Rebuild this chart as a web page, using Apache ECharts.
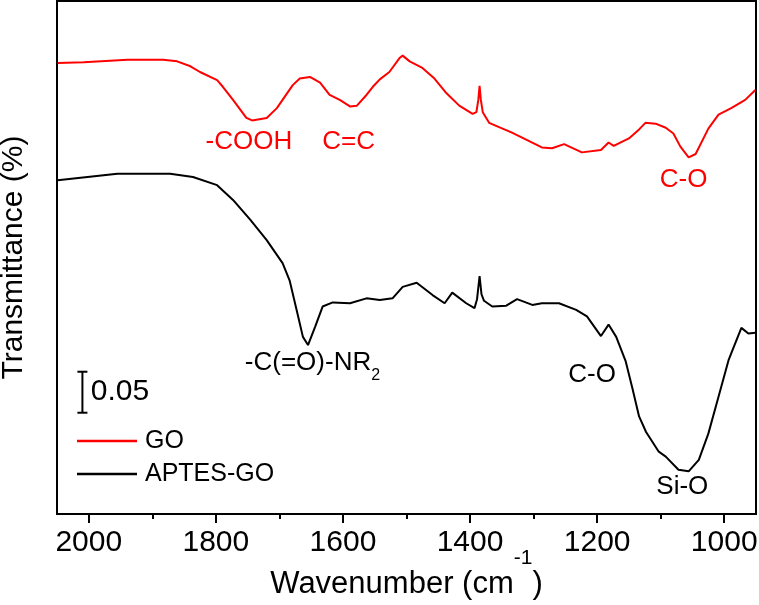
<!DOCTYPE html>
<html><head><meta charset="utf-8">
<script src="https://cdn.jsdelivr.net/npm/echarts@6/dist/echarts.min.js"></script>
<style>html,body{margin:0;padding:0;background:#fff}#c{width:759px;height:605px}</style>
</head><body><div id="c"></div>
<script>
// ---- data ----
const wavenumberGO = [2049,2008,1939,1883,1861,1840,1825,1798,1789,1773,1752,1743,1720,1704,1688,1679,1668,1652,1636,1621,1605,1589,1578,1563,1553,1542,1527,1511,1506,1495,1475,1456,1437,1417,1396,1390,1387,1385,1383,1380,1370,1334,1287,1271,1252,1224,1194,1182,1174,1150,1134,1124,1108,1092,1080,1069,1056,1045,1025,1009,989,967,951];
const transmittanceGO = [0.550,0.551,0.554,0.554,0.552,0.546,0.539,0.529,0.521,0.505,0.483,0.480,0.483,0.495,0.513,0.523,0.531,0.533,0.526,0.511,0.505,0.497,0.498,0.511,0.521,0.530,0.539,0.556,0.559,0.552,0.544,0.531,0.513,0.498,0.488,0.490,0.505,0.522,0.505,0.490,0.477,0.465,0.447,0.446,0.451,0.441,0.444,0.453,0.449,0.458,0.469,0.477,0.476,0.471,0.464,0.448,0.435,0.439,0.470,0.487,0.495,0.505,0.517];

const wavenumberAPTES = [2049,1955,1872,1836,1798,1773,1746,1720,1695,1684,1673,1663,1655,1644,1632,1616,1589,1563,1542,1522,1506,1484,1459,1440,1428,1406,1393,1389,1385,1382,1378,1365,1343,1326,1302,1287,1260,1233,1216,1194,1182,1170,1155,1145,1134,1123,1103,1092,1072,1056,1040,1025,1009,993,989,973,962,951];
const transmittanceAPTES = [0.407,0.415,0.415,0.411,0.401,0.383,0.359,0.334,0.306,0.285,0.249,0.216,0.206,0.228,0.253,0.258,0.257,0.263,0.261,0.263,0.277,0.282,0.267,0.257,0.270,0.257,0.251,0.262,0.290,0.268,0.260,0.253,0.254,0.262,0.255,0.257,0.257,0.249,0.241,0.217,0.231,0.216,0.186,0.155,0.119,0.100,0.076,0.070,0.054,0.052,0.066,0.098,0.143,0.188,0.196,0.227,0.220,0.221];

const seriesNames = ['GO', 'APTES-GO'];
const majorTicks = [2000, 1800, 1600, 1400, 1200, 1000];
const minorTicks = [1900, 1700, 1500, 1300, 1100];

// scale bar (0.05 transmittance units)
const scaleBarWavenumber = [2010, 2010];
const scaleBarValue = [0.1235, 0.1735];
const scaleBarLabel = ['0.05'];
const scaleBarLabelPos = [1951, 0.1488];

// peak annotations
const notesGOWavenumber = [1748, 1591, 1064];
const notesGOValue = [0.454, 0.454, 0.408];
const notesGOText = ['-COOH', 'C=C', 'C-O'];
const notesAPTESWavenumber = [1648, 1208, 1066];
const notesAPTESValue = [0.1838, 0.1695, 0.0333];
const notesAPTESText = ['-C(=O)-NR{sub|2}', 'C-O', 'Si-O'];

// ---- chart ----
const FONT = '"Liberation Sans", Arial, Helvetica, sans-serif';
const RED = '#ff0000', BLACK = '#000000';
const zip = (a, b) => a.map((v, i) => [v, b[i]]);
const noteData = (w, v, t) => w.map((x, i) => ({ value: [x, v[i]], text: t[i] }));

const chart = echarts.init(document.getElementById('c'), null, { renderer: 'canvas' });
const xCommon = { type: 'value', min: 950, max: 2050, inverse: true, splitLine: { show: false } };
const noteLabel = (color, size) => ({
  show: true, position: 'inside', formatter: p => p.data.text, opacity: 1,
  color: color, fontSize: size, fontFamily: FONT, lineHeight: 30,
  align: 'center', verticalAlign: 'middle',
  rich: { sub: { fontSize: 16, fontFamily: FONT, color: color, opacity: 1, padding: [25, 0, 0, 0] } }
});
const noteSeries = (name, data, color, size) => ({
  name: name, type: 'scatter', symbolSize: 0, data: data,
  itemStyle: { opacity: 1, color: color }, label: noteLabel(color, size),
  emphasis: { disabled: true }, silent: true, z: 5
});

chart.setOption({
  animation: false,
  backgroundColor: '#ffffff',
  grid: { left: 57, right: 3, top: 1, bottom: 91, show: true, borderColor: BLACK, borderWidth: 2, outerBoundsMode: 'none', containLabel: false },
  legend: {
    data: seriesNames, orient: 'vertical', left: 77, top: 428, padding: 0,
    itemWidth: 60, itemHeight: 2.5, icon: 'rect', itemGap: 7,
    textStyle: { fontSize: 25, fontFamily: FONT, color: BLACK, lineHeight: 26, padding: [0, 0, 0, 3] }
  },
  xAxis: [
    Object.assign({}, xCommon, {
      position: 'bottom',
      axisLine: { show: true, lineStyle: { color: BLACK, width: 2 } },
      axisTick: { show: true, inside: false, length: 9, customValues: majorTicks, lineStyle: { color: BLACK, width: 2 } },
      axisLabel: { show: true, customValues: majorTicks, formatter: v => String(v), fontSize: 30, fontFamily: FONT, color: BLACK, margin: 14 },
      name: '{a|Wavenumber (cm}{sup|-1}{a|)}', nameLocation: 'middle', nameGap: 34, nameMoveOverlap: false,
      nameTextStyle: {
        fontSize: 31, fontFamily: FONT, color: BLACK, lineHeight: 72,
        rich: { a: { fontSize: 31, fontFamily: FONT, color: BLACK, lineHeight: 72 },
                sup: { fontSize: 21, fontFamily: FONT, color: BLACK, lineHeight: 22, verticalAlign: 'top' } }
      }
    }),
    Object.assign({}, xCommon, {
      position: 'bottom', gridIndex: 0,
      axisLine: { show: false },
      axisTick: { show: true, inside: false, length: 5, customValues: minorTicks, lineStyle: { color: BLACK, width: 2 } },
      axisLabel: { show: false }
    })
  ],
  yAxis: {
    type: 'value', min: 0, max: 0.6256,
    axisLine: { show: true, lineStyle: { color: BLACK, width: 2 } },
    axisTick: { show: false }, axisLabel: { show: false }, splitLine: { show: false },
    name: 'Transmittance (%)', nameLocation: 'middle', nameGap: 28, nameMoveOverlap: false,
    nameTextStyle: { fontSize: 30, fontFamily: FONT, color: BLACK }
  },
  series: [
    { name: seriesNames[0], type: 'line', data: zip(wavenumberGO, transmittanceGO), showSymbol: false, symbol: 'none',
      color: RED, lineStyle: { color: RED, width: 2 }, z: 3 },
    { name: seriesNames[1], type: 'line', data: zip(wavenumberAPTES, transmittanceAPTES), showSymbol: false, symbol: 'none',
      color: BLACK, lineStyle: { color: BLACK, width: 2 }, z: 3 },
    { name: 'scalebar', type: 'line', data: zip(scaleBarWavenumber, scaleBarValue), symbol: 'rect', symbolSize: [10, 2],
      showSymbol: true, color: BLACK, itemStyle: { color: BLACK }, lineStyle: { color: BLACK, width: 2 } },
    noteSeries('scalebarLabel', [{ value: scaleBarLabelPos, text: scaleBarLabel[0] }], BLACK, 30),
    noteSeries('notesGO', noteData(notesGOWavenumber, notesGOValue, notesGOText), RED, 26),
    noteSeries('notesAPTES', noteData(notesAPTESWavenumber, notesAPTESValue, notesAPTESText), BLACK, 26)
  ]
});
</script></body></html>
